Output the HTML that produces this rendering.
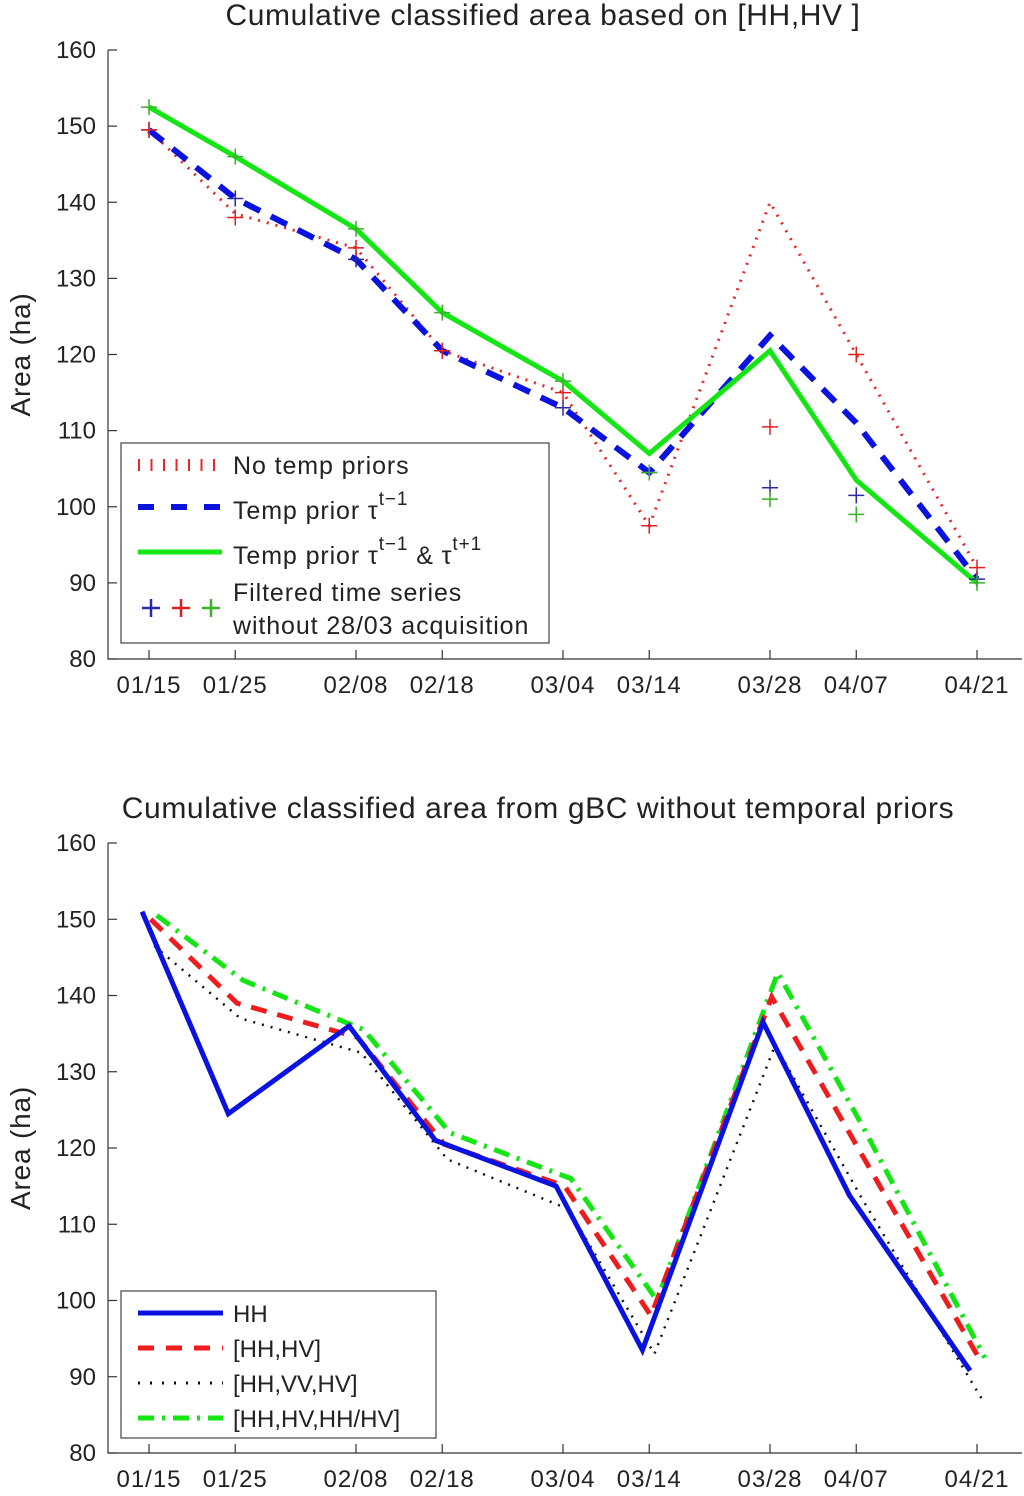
<!DOCTYPE html>
<html><head><meta charset="utf-8"><style>
body{margin:0;background:#fff;}
svg{display:block;font-family:"Liberation Sans",sans-serif;}
</style></head><body>
<svg id="svg" width="1024" height="1496" viewBox="0 0 1024 1496" xmlns="http://www.w3.org/2000/svg">
<g id="top"></g>
<g id="bot"></g>
</svg>
<script>
const dates = ["01/15","01/25","02/08","02/18","03/04","03/14","03/28","04/07","04/21"];
const days = [0,10,24,34,48,58,72,82,96];
const yTicks = [80,90,100,110,120,130,140,150,160];
// top chart
const noPriors = [149.5,138.5,134,120.5,115,97.5,140,120,92];
const priorPrev = [149.5,140.5,132.5,120.5,113,104.5,122.5,111,90.5];
const priorBoth = [152.5,146,136.5,125.5,116.5,107,120.5,103.5,90];
const filtBlue = [149.5,140.5,132.5,120.5,113,104.5,102.5,101.5,90.5];
const filtRed = [149.5,138,134,120.5,115,97.5,110.5,120,92];
const filtGreen = [152.5,146,136.5,125.5,116.5,104.5,101,99,90];
// bottom chart
const hh = [151,124.5,136,121,115,93.5,136.5,113.8,90.8];
const hhhv = [150,139,134.5,120.5,115,98,139.8,120,92.5];
const hhvvhv = [146.5,137,132.5,118.5,112,93,133.5,113.5,87];
const hhhvratio = [150.5,142,135.5,122,116,100,143,122.5,92.5];

const NS="http://www.w3.org/2000/svg";
function mk(parent,tag,attrs,text){const e=document.createElementNS(NS,tag);for(const k in attrs)e.setAttribute(k,attrs[k]);if(text!==undefined)e.textContent=text;parent.appendChild(e);return e;}

function axes(g,top,bottom,title,titleX){
  const xS=d=>149+d*8.625;
  const yS=v=>bottom-(v-80)*(bottom-top)/80;
  const ax=mk(g,'path',{d:`M108 ${top}V${bottom}H1022`,stroke:'#333',fill:'none','stroke-width':1.2});
  
  yTicks.forEach(v=>{
    mk(g,'line',{x1:108,x2:117,y1:yS(v),y2:yS(v),stroke:'#333','stroke-width':1.2});
    const t=mk(g,'text',{x:96,y:yS(v)+8,'text-anchor':'end','font-size':24,fill:'#222'},v);
    
  });
  dates.forEach((d,i)=>{
    mk(g,'line',{x1:xS(days[i]),x2:xS(days[i]),y1:bottom,y2:bottom-9,stroke:'#333','stroke-width':1.2});
    const t=mk(g,'text',{x:xS(days[i]),y:bottom+34,'text-anchor':'middle','font-size':24,'letter-spacing':1,fill:'#222'},d);
    
  });
  const tt=mk(g,'text',{x:titleX,y:top-25,'text-anchor':'middle','font-size':30,'letter-spacing':0.6,fill:'#222'},title);
  
  const yl=mk(g,'text',{x:0,y:0,transform:`translate(30 ${(top+bottom)/2}) rotate(-90)`,'text-anchor':'middle','font-size':28,'letter-spacing':0.8,fill:'#222'},'Area (ha)');
  
  return {xS,yS};
}
function line(g,S,vals,style,name,off){
  const pts=vals.map((v,i)=>S.xS(days[i]+(off||0)).toFixed(1)+','+S.yS(v).toFixed(1)).join(' ');
  const p=mk(g,'polyline',Object.assign({points:pts,fill:'none','stroke-linejoin':'miter'},style));
  
}
function marks(g,S,vals,color,name){
  vals.forEach((v,i)=>{const x=S.xS(days[i]),y=S.yS(v);
    const p=mk(g,'path',{d:`M${x-8} ${y}H${x+8}M${x} ${y-8}V${y+8}`,stroke:color,'stroke-width':1.5});
    });
}
// TOP
const gt=document.getElementById('top');
const S1=axes(gt,50,659,'Cumulative classified area based on [HH,HV ]',543);
line(gt,S1,noPriors,{stroke:'#e8262a','stroke-width':3,'stroke-dasharray':'2 7'},'line-no-temp-priors');
line(gt,S1,priorPrev,{stroke:'#0a12e0','stroke-width':6,'stroke-dasharray':'18 12'},'line-temp-prior-prev');
line(gt,S1,priorBoth,{stroke:'#14e614','stroke-width':5},'line-temp-prior-both');
marks(gt,S1,filtBlue,'#2a2aa8','marker-filtered-blue');
marks(gt,S1,filtRed,'#e02020','marker-filtered-red');
marks(gt,S1,filtGreen,'#3cb02c','marker-filtered-green');
// legend top
const lg=mk(gt,'g',{});
mk(lg,'rect',{x:121,y:443,width:428,height:200,fill:'#fff',stroke:'#444','stroke-width':1.2});
mk(lg,'line',{x1:138,x2:218,y1:465,y2:465,stroke:'#e8262a','stroke-width':12,'stroke-dasharray':'2 10.5'});
mk(lg,'line',{x1:138,x2:222,y1:507,y2:507,stroke:'#0a12e0','stroke-width':6,'stroke-dasharray':'16 17'});
mk(lg,'line',{x1:138,x2:222,y1:552,y2:552,stroke:'#14e614','stroke-width':5});
[['#2a2aa8',151],['#e02020',181],['#3cb02c',211]].forEach(c=>mk(lg,'path',{d:`M${c[1]-9} 608H${c[1]+9}M${c[1]} 599V617`,stroke:c[0],'stroke-width':2.5}));
const fs=25, ls=0.9;
mk(lg,'text',{x:233,y:474,'font-size':fs,'letter-spacing':ls,fill:'#222'},'No temp priors');
const t2=mk(lg,'text',{x:233,y:519,'font-size':fs,'letter-spacing':ls,fill:'#222'},'Temp prior  τ');mk(t2,'tspan',{dy:-14,'font-size':19},'t−1');
const t3=mk(lg,'text',{x:233,y:564,'font-size':fs,'letter-spacing':ls,fill:'#222'},'Temp prior  τ');mk(t3,'tspan',{dy:-14,'font-size':19},'t−1');mk(t3,'tspan',{dy:14,'font-size':fs},' & τ');mk(t3,'tspan',{dy:-14,'font-size':19},'t+1');
mk(lg,'text',{x:233,y:601,'font-size':fs,'letter-spacing':ls,fill:'#222'},'Filtered time series');
mk(lg,'text',{x:233,y:634,'font-size':fs,'letter-spacing':ls,fill:'#222'},'without 28/03 acquisition');
// BOTTOM
const gb=document.getElementById('bot');
const S2=axes(gb,843,1453,'Cumulative classified area from gBC without temporal priors',538);
line(gb,S2,hhvvhv,{stroke:'#111','stroke-width':2.5,'stroke-dasharray':'2 7'},'line-hh-vv-hv',0.6);
line(gb,S2,hhhvratio,{stroke:'#14e614','stroke-width':5,'stroke-dasharray':'16 8 3 8'},'line-hh-hv-ratio',0.9);
line(gb,S2,hhhv,{stroke:'#ee1c1c','stroke-width':5,'stroke-dasharray':'16 11'},'line-hh-hv',0.2);
line(gb,S2,hh,{stroke:'#0a12e0','stroke-width':5},'line-hh',-0.8);
const lb=mk(gb,'g',{});
mk(lb,'rect',{x:121,y:1291,width:315,height:147,fill:'#fff',stroke:'#444','stroke-width':1.2});
mk(lb,'line',{x1:138,x2:223,y1:1313,y2:1313,stroke:'#0a12e0','stroke-width':5});
mk(lb,'line',{x1:138,x2:223,y1:1348,y2:1348,stroke:'#ee1c1c','stroke-width':5,'stroke-dasharray':'16 12'});
mk(lb,'line',{x1:138,x2:223,y1:1383,y2:1383,stroke:'#111','stroke-width':3,'stroke-dasharray':'2 10'});
mk(lb,'line',{x1:138,x2:223,y1:1418,y2:1418,stroke:'#14e614','stroke-width':5,'stroke-dasharray':'16 8 3 8'});
[['HH',1322],['[HH,HV]',1357],['[HH,VV,HV]',1392],['[HH,HV,HH/HV]',1427]].forEach(a=>mk(lb,'text',{x:233,y:a[1],'font-size':24,fill:'#222'},a[0]));
</script>
</body></html>
